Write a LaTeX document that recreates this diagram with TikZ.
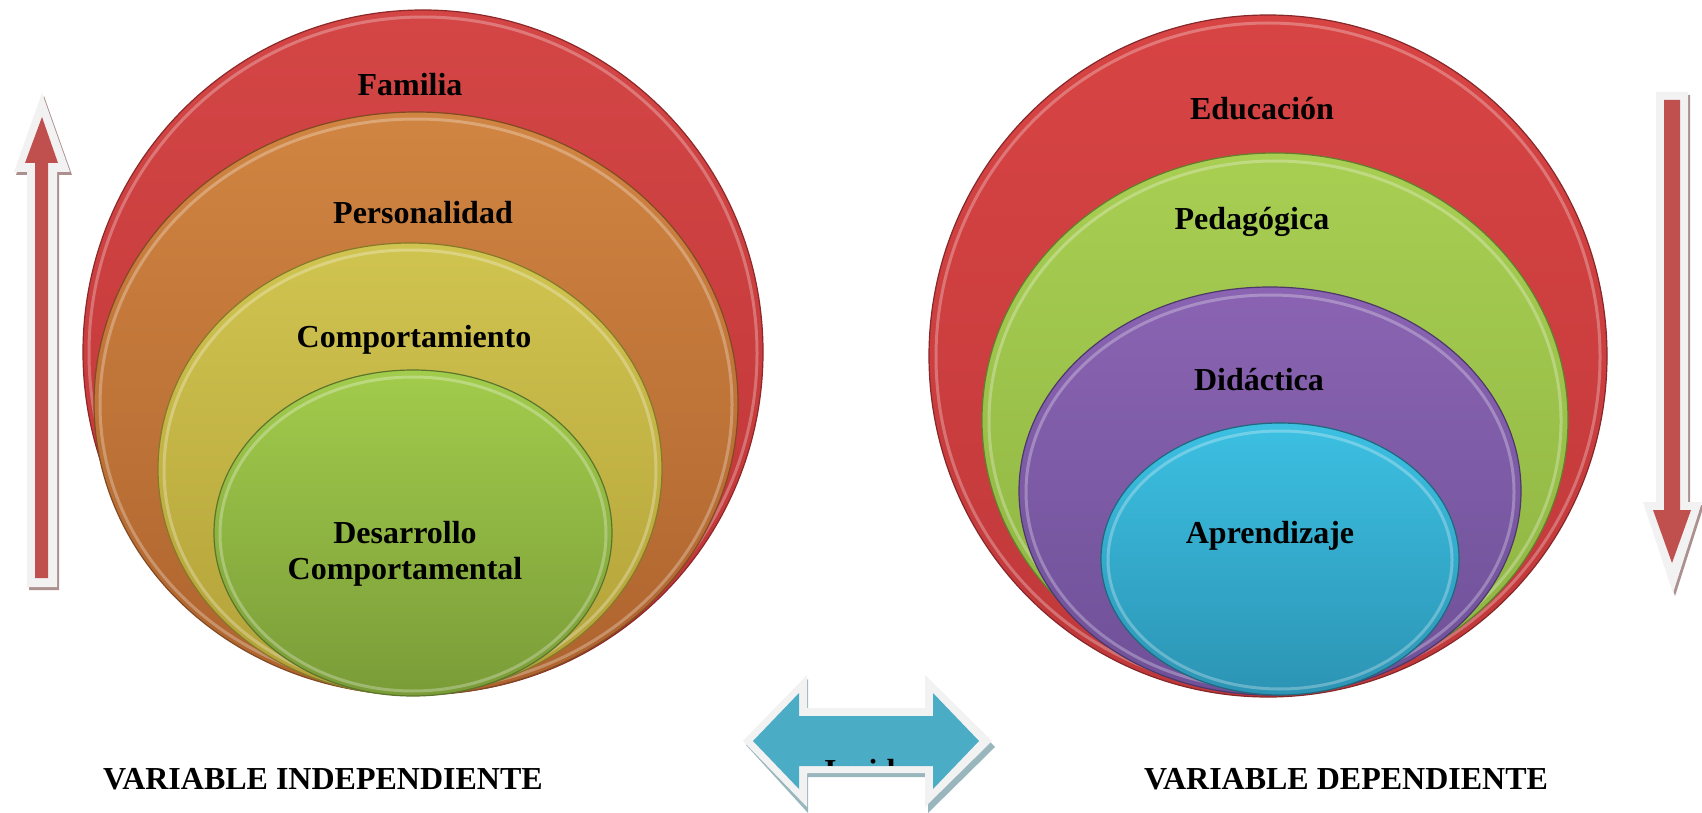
\documentclass[tikz,border=0pt]{standalone}
\usepackage{fontspec}
\setmainfont{Liberation Serif}
\usetikzlibrary{shapes.geometric}
\definecolor{LRedT}{HTML}{D44646}
\definecolor{LRedB}{HTML}{BE3436}
\definecolor{OrT}{HTML}{D08542}
\definecolor{OrB}{HTML}{AE632E}
\definecolor{YeT}{HTML}{D0C450}
\definecolor{YeB}{HTML}{B3A138}
\definecolor{GrT}{HTML}{A2CC4C}
\definecolor{GrB}{HTML}{7A9C38}
\definecolor{RRedT}{HTML}{D84444}
\definecolor{RRedB}{HTML}{C0383A}
\definecolor{RGrT}{HTML}{A8CE52}
\definecolor{RGrB}{HTML}{8DB442}
\definecolor{PuT}{HTML}{8A64B2}
\definecolor{PuB}{HTML}{6E5098}
\definecolor{BlT}{HTML}{3CC0E2}
\definecolor{BlB}{HTML}{2C94B4}
\definecolor{ArrRed}{HTML}{C0504D}
\definecolor{ArrTeal}{HTML}{4BACC6}
\definecolor{Halo}{HTML}{F2F2F2}
\definecolor{ShRed}{HTML}{8A6060}
\definecolor{ShTeal}{HTML}{6E98A2}
\begin{document}
\begin{tikzpicture}[x=1pt,y=-1pt,
  disc/.style={ellipse, inner sep=0pt, outer sep=0pt, line width=1.2pt},
  rim/.style={ellipse, inner sep=0pt, outer sep=0pt, draw=white, draw opacity=0.28, line width=3pt},
  lbl/.style={font=\fontsize{32}{36}\selectfont\bfseries, align=center, inner sep=0pt, text=black},
  halo/.style={fill=Halo},
]
\fill[white] (0,0) rectangle (1702,813);
\useasboundingbox (0,0) rectangle (1702,813);

% ---------- left arrow (up) ----------
\fill[ShRed, opacity=0.7] (44,96) -- (72,175) -- (59,175) -- (59,590) -- (29,590) -- (29,175) -- (16,175) -- cycle;
\fill[halo] (42,93) -- (70,172) -- (57,172) -- (57,587) -- (27,587) -- (27,172) -- (14,172) -- cycle;
\fill[ArrRed] (42,117) -- (58,163) -- (48,163) -- (48,578) -- (35,578) -- (35,163) -- (25,163) -- cycle;

% ---------- right arrow (down) ----------
\fill[ShRed, opacity=0.7] (1658,95) -- (1690,95) -- (1690,505) -- (1704,505) -- (1675,596) -- (1645,505) -- (1658,505) -- cycle;
\fill[halo] (1656,92) -- (1688,92) -- (1688,502) -- (1702,502) -- (1673,593) -- (1643,502) -- (1656,502) -- cycle;
\fill[ArrRed] (1664,100) -- (1680,100) -- (1680,510) -- (1691,510) -- (1672,563) -- (1653,510) -- (1664,510) -- cycle;

% ---------- left nested discs ----------
\node[disc, top color=LRedT, bottom color=LRedB, draw=LRedB!75!black, minimum width=680pt, minimum height=684pt] (famD) at (423,352) {};
\node[rim, minimum width=668pt, minimum height=672pt] (famR) at (423,353) {};
\node[disc, top color=OrT, bottom color=OrB, draw=OrB!75!black, minimum width=644pt, minimum height=583pt] (perD) at (416,403.5) {};
\node[rim, minimum width=632pt, minimum height=571pt] (perR) at (416,404.5) {};
\node[disc, top color=YeT, bottom color=YeB, draw=YeB!75!black, minimum width=504pt, minimum height=452pt] (comD) at (410,469) {};
\node[rim, minimum width=492pt, minimum height=440pt] (comR) at (410,470) {};
\node[disc, top color=GrT, bottom color=GrB, draw=GrB!75!black, minimum width=398pt, minimum height=326pt] (desD) at (413,533) {};
\node[rim, minimum width=386pt, minimum height=314pt] (desR) at (413,534) {};

\node[lbl] (famT) at (410,85) {Familia};
\node[lbl] (perT) at (423,213) {Personalidad};
\node[lbl] (comT) at (414,340) {Comportamiento};
\node[lbl] (desT) at (405,554) {Desarrollo\\Comportamental};

% ---------- right nested discs ----------
\node[disc, top color=RRedT, bottom color=RRedB, draw=RRedB!70!black, minimum width=678pt, minimum height=682pt] (eduD) at (1268,356) {};
\node[rim, minimum width=664pt, minimum height=668pt] (eduR) at (1268,357) {};
\node[disc, top color=RGrT, bottom color=RGrB, draw=RGrB!70!black, minimum width=586pt, minimum height=534pt] (pedD) at (1275,420) {};
\node[rim, minimum width=572pt, minimum height=520pt] (pedR) at (1275,421) {};
\node[disc, top color=PuT, bottom color=PuB, draw=PuB!70!black, minimum width=502pt, minimum height=408pt] (didD) at (1270,491) {};
\node[rim, minimum width=488pt, minimum height=394pt] (didR) at (1270,492) {};
\node[disc, top color=BlT, bottom color=BlB, draw=BlB!70!black, minimum width=358pt, minimum height=272pt] (aprD) at (1280,559) {};
\node[rim, minimum width=344pt, minimum height=258pt] (aprR) at (1280,560) {};

\node[lbl] (eduT) at (1262,109) {Educación};
\node[lbl] (pedT) at (1252,222) {Pedagógica};
\node[lbl] (didT) at (1259,380) {Didáctica};
\node[lbl] (aprT) at (1270,536) {Aprendizaje};

% ---------- double arrow ----------
\fill[ShTeal, opacity=0.7] (746,745) -- (808,679) -- (808,712) -- (928,712) -- (928,679) -- (995,747) -- (928,813) -- (928,777) -- (808,777) -- (808,813) -- cycle;
\fill[halo] (743,741) -- (807,675) -- (807,708) -- (925,708) -- (925,675) -- (992,741) -- (925,807) -- (925,773) -- (807,773) -- (807,807) -- cycle;
\fill[ArrTeal] (753,741) -- (799,693) -- (799,716) -- (933,716) -- (933,693) -- (979,741) -- (933,789) -- (933,766) -- (799,766) -- (799,789) -- cycle;
\begin{scope}
  \clip (800,716) rectangle (932,765);
  \node[lbl, anchor=base west] (incT) at (824,781) {Incidencia};
\end{scope}

% ---------- bottom labels ----------
\node[lbl] (viT) at (323,779) {VARIABLE INDEPENDIENTE};
\node[lbl] (vdT) at (1346,779) {VARIABLE DEPENDIENTE};
\end{tikzpicture}
\end{document}
